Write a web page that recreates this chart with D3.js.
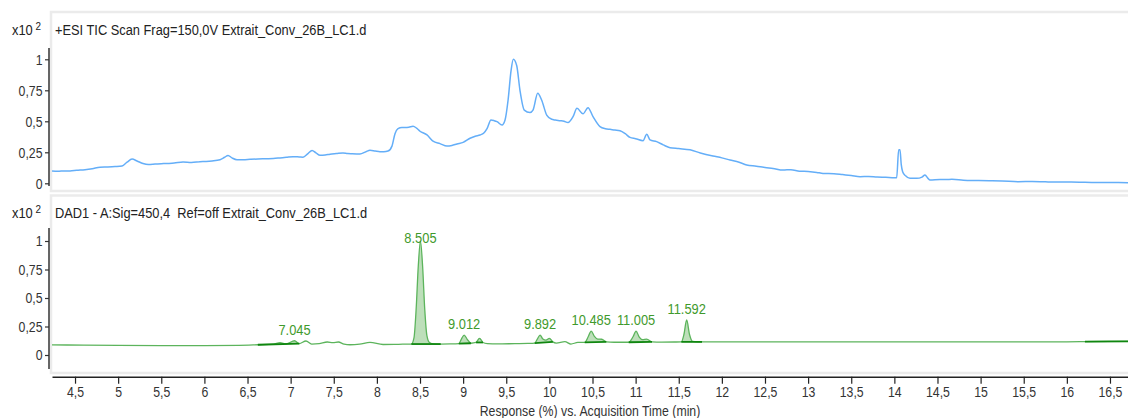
<!DOCTYPE html>
<html>
<head>
<meta charset="utf-8">
<script src="https://cdn.jsdelivr.net/npm/d3@7"></script>
<style>
  html, body { margin: 0; padding: 0; background: #ffffff; }
  svg { display: block; }
  text { font-family: "Liberation Sans", Arial, sans-serif; }
</style>
</head>
<body>
<svg id="chart" width="1128" height="418"></svg>
<script>
// ---------------- DATA ----------------
const xTicks = [4.5,5,5.5,6,6.5,7,7.5,8,8.5,9,9.5,10,10.5,11,11.5,12,12.5,13,13.5,14,14.5,15,15.5,16,16.5];
const yTicks = [0, 0.25, 0.5, 0.75, 1];

const ticTitle = "+ESI TIC Scan Frag=150,0V Extrait_Conv_26B_LC1.d";
const dadTitle = "DAD1 - A:Sig=450,4  Ref=off Extrait_Conv_26B_LC1.d";
const xAxisTitle = "Response (%) vs. Acquisition Time (min)";

// TIC trace (x10^2)
const ticTime = [4.233,4.3,4.38,4.442,4.52,4.616,4.7,4.79,4.88,4.964,5.045,5.103,5.161,5.219,5.288,5.35,5.428,5.5,5.567,5.65,5.752,5.85,5.949,6.02,6.088,6.181,6.235,6.274,6.32,6.378,6.45,6.529,6.62,6.726,6.8,6.877,6.95,7.028,7.1,7.143,7.201,7.248,7.294,7.341,7.4,7.457,7.53,7.607,7.66,7.712,7.804,7.874,7.92,7.98,8.036,8.08,8.129,8.175,8.21,8.245,8.29,8.326,8.37,8.419,8.46,8.5,8.581,8.651,8.732,8.813,8.87,8.929,9.0,9.08,9.14,9.196,9.24,9.277,9.323,9.36,9.393,9.451,9.486,9.521,9.556,9.582,9.621,9.659,9.709,9.775,9.81,9.865,9.911,9.969,10.027,10.07,10.123,10.17,10.216,10.274,10.32,10.39,10.448,10.506,10.587,10.65,10.703,10.76,10.819,10.88,10.935,11.0,11.086,11.129,11.167,11.244,11.32,11.399,11.5,11.631,11.75,11.897,12.0,12.094,12.2,12.288,12.4,12.5,12.593,12.709,12.8,12.9,13.0,13.1,13.173,13.3,13.4,13.5,13.602,13.7,13.8,13.9,14.0,14.027,14.05,14.065,14.08,14.096,14.13,14.181,14.26,14.32,14.355,14.39,14.413,14.529,14.6,14.667,14.8,14.95,15.1,15.25,15.44,15.6,15.75,15.9,16.05,16.209,16.35,16.5,16.709];
const ticValue = [0.10,0.097,0.10,0.10,0.105,0.11,0.118,0.13,0.132,0.135,0.14,0.17,0.195,0.18,0.16,0.152,0.155,0.158,0.16,0.163,0.172,0.168,0.174,0.176,0.18,0.19,0.21,0.225,0.205,0.19,0.19,0.193,0.196,0.198,0.2,0.205,0.21,0.215,0.212,0.21,0.24,0.265,0.245,0.226,0.228,0.235,0.24,0.245,0.24,0.238,0.236,0.255,0.266,0.26,0.255,0.255,0.26,0.30,0.40,0.44,0.45,0.45,0.452,0.46,0.445,0.42,0.39,0.34,0.32,0.30,0.305,0.317,0.33,0.363,0.38,0.39,0.405,0.44,0.51,0.505,0.497,0.47,0.51,0.67,0.91,1.0,0.95,0.75,0.59,0.57,0.59,0.726,0.67,0.55,0.516,0.51,0.505,0.50,0.49,0.537,0.605,0.56,0.61,0.537,0.457,0.44,0.435,0.43,0.424,0.40,0.37,0.36,0.344,0.395,0.35,0.336,0.31,0.287,0.28,0.27,0.245,0.22,0.205,0.188,0.17,0.148,0.138,0.127,0.12,0.107,0.11,0.098,0.095,0.088,0.08,0.078,0.07,0.062,0.053,0.055,0.05,0.048,0.045,0.045,0.27,0.27,0.15,0.094,0.06,0.04,0.04,0.05,0.067,0.04,0.027,0.03,0.03,0.032,0.025,0.022,0.02,0.018,0.013,0.015,0.012,0.01,0.01,0.008,0.007,0.006,0.005];

// DAD trace (x10^2)
const dadTime = [4.233,4.6,5.0,5.5,6.0,6.4,6.62,6.8,6.877,6.95,7.045,7.1,7.178,7.244,7.33,7.425,7.49,7.553,7.62,7.688,7.8,7.92,8.071,8.2,8.3,8.4,8.43,8.455,8.48,8.505,8.53,8.555,8.58,8.61,8.66,8.74,8.85,8.95,8.98,9.012,9.045,9.09,9.15,9.19,9.23,9.28,9.4,9.6,9.75,9.83,9.86,9.892,9.925,9.96,10.0,10.04,10.08,10.18,10.25,10.33,10.41,10.45,10.485,10.52,10.56,10.607,10.66,10.75,10.92,10.97,11.005,11.04,11.08,11.128,11.19,11.3,11.45,11.53,11.56,11.592,11.625,11.66,11.77,12.0,12.5,13.0,13.5,14.0,14.5,15.0,15.5,16.0,16.21,16.5,16.709];
const dadValue = [0.088,0.087,0.085,0.083,0.083,0.085,0.09,0.095,0.108,0.098,0.125,0.10,0.123,0.096,0.10,0.114,0.108,0.114,0.095,0.09,0.095,0.11,0.092,0.093,0.095,0.096,0.15,0.40,0.78,1.0,0.78,0.40,0.17,0.11,0.098,0.096,0.097,0.10,0.14,0.175,0.14,0.103,0.11,0.146,0.11,0.10,0.097,0.10,0.102,0.105,0.14,0.175,0.14,0.13,0.146,0.115,0.105,0.117,0.096,0.11,0.11,0.16,0.21,0.165,0.14,0.138,0.115,0.112,0.112,0.16,0.21,0.16,0.135,0.14,0.115,0.113,0.114,0.115,0.18,0.307,0.18,0.12,0.115,0.115,0.115,0.115,0.115,0.115,0.115,0.116,0.116,0.116,0.117,0.119,0.12];

// integrated peak windows (start, end) in minutes
const peakStart = [6.62, 8.40, 8.95, 9.15, 9.83, 10.41, 10.92, 11.53, 16.21];
const peakEnd   = [7.10, 8.74, 9.09, 9.23, 10.04, 10.66, 11.19, 11.77, 16.709];

// peak labels
const peakLabels = ["7.045","8.505","9.012","9.892","10.485","11.005","11.592"];
const peakTimes  = [7.045, 8.505, 9.012, 9.892, 10.485, 11.005, 11.592];

// ---------------- DRAW ----------------
const svg = d3.select("#chart");
const X0 = 52, X1 = 1128;
const x = d3.scaleLinear().domain([4.233, 16.709]).range([X0, X1]);
const yTop = d3.scaleLinear().domain([0, 1]).range([183.3, 59.3]);
const yBot = d3.scaleLinear().domain([0, 1]).range([355, 241]);
const fmt = d => String(d).replace(".", ",");
const K = 0.82; // horizontal condensing of the narrow UI font

function ntext(parent, tx, ty, str, size, k, anchor, fill) {
  return parent.append("text")
    .attr("transform", `translate(${tx},${ty}) scale(${k},1)`)
    .attr("font-size", size).attr("fill", fill || "#222")
    .attr("text-anchor", anchor || "start")
    .style("white-space", "pre").text(str);
}

const defs = svg.append("defs");
defs.append("clipPath").attr("id","clipTop").append("rect").attr("x",X0).attr("y",40).attr("width",X1-X0).attr("height",148);
defs.append("clipPath").attr("id","clipBot").append("rect").attr("x",X0).attr("y",222).attr("width",X1-X0).attr("height",148);

// panel frames
function frame(y0, y1) {
  svg.append("rect").attr("x", 51).attr("y", y0).attr("width", X1 - 51 + 4).attr("height", y1 - y0)
    .attr("fill", "none").attr("stroke", "#ebebeb").attr("stroke-width", 2.5);
}
frame(12, 191);
frame(195.5, 373);

// headers
function header(yBase, title) {
  ntext(svg, 12, yBase, "x10", 15, 0.86, "start", "#222");
  ntext(svg, 35.5, yBase - 5, "2", 11, 0.9, "start", "#222");
  ntext(svg, 55, yBase, title, 14.5, 0.885, "start", "#222");
}
header(34.5, ticTitle);
header(218, dadTitle);

// y axes
function yAxis(scale, yA, yB) {
  const g = svg.append("g").attr("transform", "translate(49,0)")
    .call(d3.axisLeft(scale).tickValues(yTicks).tickFormat(fmt).tickSize(4).tickPadding(3));
  g.select(".domain").remove();
  g.selectAll(".tick line").attr("stroke", "#333").attr("stroke-width", 1.2);
  g.selectAll(".tick text").attr("font-size", 15).attr("fill", "#333")
    .attr("x", -6.5 / K).attr("transform", `scale(${K},1)`)
    .style("font-family", '"Liberation Sans", Arial, sans-serif');
  svg.append("line").attr("x1", 49).attr("x2", 49).attr("y1", yA).attr("y2", yB)
    .attr("stroke", "#333").attr("stroke-width", 1.5);
}
yAxis(yTop, 48, 186);
yAxis(yBot, 228, 369);

// x axis
const gx = svg.append("g").attr("transform", "translate(0,376.7)")
  .call(d3.axisBottom(x).tickValues(xTicks).tickFormat(fmt).tickSize(7).tickPadding(3).tickSizeOuter(0));
gx.select(".domain").attr("stroke", "#222").attr("stroke-width", 1.5);
gx.selectAll(".tick line").attr("stroke", "#222").attr("stroke-width", 1.2);
gx.selectAll(".tick text").attr("font-size", 15).attr("fill", "#333")
  .attr("transform", `scale(${K},1)`)
  .style("font-family", '"Liberation Sans", Arial, sans-serif');
ntext(svg, (X0 + X1) / 2, 416, xAxisTitle, 15, K, "middle", "#333");

// TIC line
const ticData = ticTime.map((t, i) => ({ t, v: ticValue[i] }));
svg.append("path").datum(ticData).attr("clip-path", "url(#clipTop)")
  .attr("fill", "none").attr("stroke", "#64aef8").attr("stroke-width", 1.5).attr("stroke-linejoin", "round")
  .attr("d", d3.line().x(d => x(d.t)).y(d => yTop(d.v)).curve(d3.curveMonotoneX));

// DAD trace
const dadData = dadTime.map((t, i) => ({ t, v: dadValue[i] }));
const gDad = svg.append("g").attr("clip-path", "url(#clipBot)");
function segOf(k) {
  const s = peakStart[k], e = peakEnd[k];
  return dadData.filter(d => d.t >= s - 1e-9 && d.t <= e + 1e-9);
}
peakStart.forEach((s, k) => {
  const seg = segOf(k);
  if (seg.length < 2) return;
  const a = seg[0], b = seg[seg.length - 1];
  const base = t => a.v + (b.v - a.v) * (t - a.t) / (b.t - a.t);
  gDad.append("path").datum(seg)
    .attr("fill", "#b6dcb3").attr("fill-opacity", 0.9).attr("stroke", "none")
    .attr("d", d3.area().x(d => x(d.t)).y0(d => yBot(base(d.t))).y1(d => yBot(d.v)).curve(d3.curveMonotoneX));
});
gDad.append("path").datum(dadData)
  .attr("fill", "none").attr("stroke", "#5cb45c").attr("stroke-width", 1.3).attr("stroke-linejoin", "round")
  .attr("d", d3.line().x(d => x(d.t)).y(d => yBot(d.v)).curve(d3.curveMonotoneX));
peakStart.forEach((s, k) => {
  const seg = segOf(k);
  if (seg.length < 2) return;
  const a = seg[0], b = seg[seg.length - 1];
  gDad.append("line").attr("x1", x(a.t)).attr("x2", x(b.t)).attr("y1", yBot(a.v)).attr("y2", yBot(b.v))
    .attr("stroke", "#0f860f").attr("stroke-width", 1.8);
});

// peak labels
peakLabels.forEach((lab, i) => {
  const t = peakTimes[i];
  const p = dadData.reduce((m, d) => Math.abs(d.t - t) < Math.abs(m.t - t) ? d : m, dadData[0]);
  const yy = Math.max(yBot(p.v) - 6, 243);
  ntext(svg, x(t), yy, lab, 15.5, 0.83, "middle", "#3f9a2c");
});
</script>
</body>
</html>
